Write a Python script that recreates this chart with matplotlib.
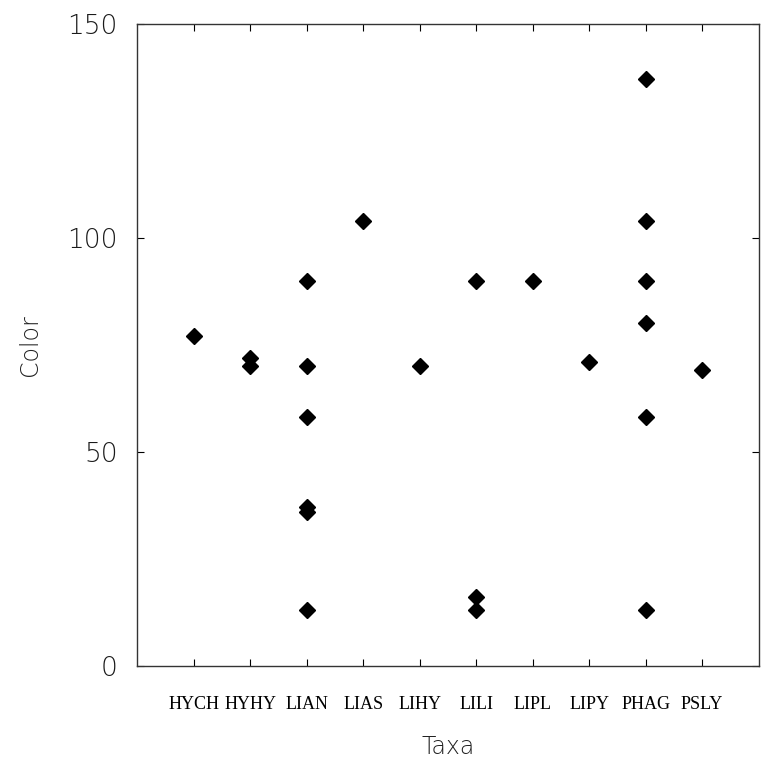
import matplotlib
matplotlib.use("Agg")
import matplotlib.pyplot as plt

taxa = ["HYCH", "HYHY", "LIAN", "LIAS", "LIHY", "LILI", "LIPL", "LIPY", "PHAG", "PSLY"]
# colour values per taxon
hych = [77]
hyhy = [72, 70]
lian = [90, 70, 58, 37, 36, 13]
lias = [104]
lihy = [70]
lili = [90, 16, 13]
lipl = [90]
lipy = [71]
phag = [137, 104, 90, 80, 58, 13]
psly = [69]
values = [hych, hyhy, lian, lias, lihy, lili, lipl, lipy, phag, psly]

fig = plt.figure(figsize=(7.67, 7.66), dpi=100)
ax = fig.add_axes([0.179, 0.131, 0.810, 0.838])

for i, vals in enumerate(values):
    ax.plot([i + 1] * len(vals), vals, linestyle="none", marker="D",
            markersize=8.5, color="black")

ax.set_xlim(0, 11)
ax.set_ylim(0, 150)
ax.set_xticks(range(1, len(taxa) + 1))
ax.set_xticklabels(taxa, family="Liberation Serif", fontsize=13)
ax.set_yticks([0, 50, 100, 150])
ax.set_yticklabels(["0", "50", "100", "150"], fontsize=19, color="#1a1a1a",
                   fontweight="light")
ax.tick_params(direction="in", length=5, width=0.8, top=True, right=True, pad=14)
ax.tick_params(axis="x", pad=22)
for s in ax.spines.values():
    s.set_linewidth(1.0)
    s.set_color("#333333")

ax.set_xlabel("Taxa", fontsize=17, color="#222222", fontweight="light", labelpad=16)
ax.set_ylabel("Color", fontsize=17, color="#222222", fontweight="light", labelpad=18)

fig.savefig("out.png", dpi=100)
